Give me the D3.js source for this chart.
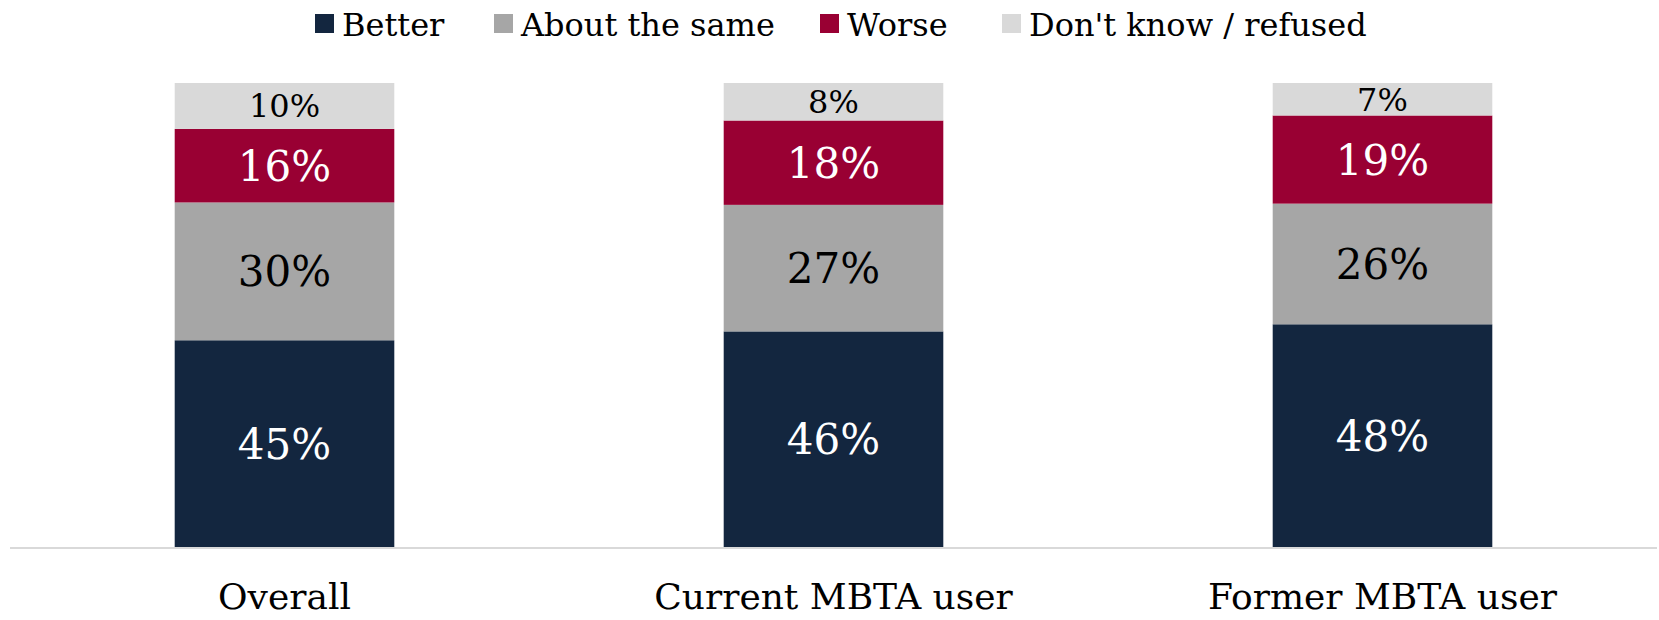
<!DOCTYPE html>
<meta charset='utf-8'>
<html>
<head>
    <title>MBTA stacked bars</title>
    <script src='https://d3js.org/d3.v7.min.js'></script>
    <style>
        html, body { margin: 0; padding: 0; background: #fff; }
        svg { display: block; font-family: 'DejaVu Serif', serif; }
    </style>
</head>
<body>
<script>
    const width = 1659;
    const height = 620;

    // data
    const categories = ['Overall', 'Current MBTA user', 'Former MBTA user'];
    const seriesNames = ['Better', 'About the same', 'Worse', "Don't know / refused"];
    const better = [45, 46, 48];
    const aboutSame = [30, 27, 26];
    const worse = [16, 18, 19];
    const dontKnow = [10, 8, 7];

    const colours = ['#13263f', '#a6a6a6', '#990033', '#d9d9d9'];
    const labelColours = ['#ffffff', '#000000', '#ffffff', '#000000'];

    const rows = categories.map((c, i) => ({
        category: c,
        'Better': better[i],
        'About the same': aboutSame[i],
        'Worse': worse[i],
        "Don't know / refused": dontKnow[i]
    }));

    // 100% stacked
    const stack = d3.stack().keys(seriesNames).offset(d3.stackOffsetExpand);
    const layers = stack(rows);

    const x = d3.scaleBand()
        .domain(categories)
        .range([10, 1657])
        .paddingInner(0.6)
        .paddingOuter(0.3);

    const y = d3.scaleLinear()
        .domain([0, 1])
        .range([547, 83]);

    const svg = d3.select('body')
        .append('svg')
        .attr('width', width)
        .attr('height', height);

    // bars
    const groups = svg.selectAll('g.layer')
        .data(layers)
        .enter()
        .append('g')
        .attr('class', 'layer')
        .attr('fill', (d, i) => colours[i]);

    groups.selectAll('rect')
        .data(d => d)
        .enter()
        .append('rect')
        .attr('x', d => x(d.data.category))
        .attr('y', d => y(d[1]))
        .attr('width', x.bandwidth())
        .attr('height', d => y(d[0]) - y(d[1]));

    // segment labels
    groups.each(function (layer, li) {
        d3.select(this).selectAll('text')
            .data(layer)
            .enter()
            .append('text')
            .attr('x', d => x(d.data.category) + x.bandwidth() / 2)
            .attr('y', d => (y(d[0]) + y(d[1])) / 2)
            .attr('dy', '0.36em')
            .attr('text-anchor', 'middle')
            .style('font-size', li === 3 ? '32px' : '42px')
            .style('fill', labelColours[li])
            .text(d => d.data[layer.key] + '%');
    });

    // baseline
    svg.append('line')
        .attr('x1', 10)
        .attr('x2', 1657)
        .attr('y1', 548)
        .attr('y2', 548)
        .style('stroke', '#d9d9d9')
        .style('stroke-width', 2);

    // category labels
    const xAxis = d3.axisBottom(x).tickSize(0).tickPadding(0);
    const axisG = svg.append('g')
        .attr('transform', 'translate(0,583)')
        .call(xAxis);
    axisG.select('.domain').remove();
    axisG.selectAll('text')
        .style('font-family', "'DejaVu Serif', serif")
        .style('font-size', '36px')
        .style('fill', '#000');

    // legend
    const legendX = [315, 494, 820, 1002];
    const legend = svg.selectAll('g.legendEntry')
        .data(seriesNames)
        .enter()
        .append('g')
        .attr('class', 'legendEntry')
        .attr('transform', (d, i) => 'translate(' + legendX[i] + ',0)');

    legend.append('rect')
        .attr('x', 0)
        .attr('y', 14)
        .attr('width', 19)
        .attr('height', 19)
        .style('fill', (d, i) => colours[i]);

    legend.append('text')
        .attr('x', 27)
        .attr('y', 24)
        .attr('dy', '0.36em')
        .style('font-size', '32px')
        .text(d => d);
</script>
</body>
</html>
